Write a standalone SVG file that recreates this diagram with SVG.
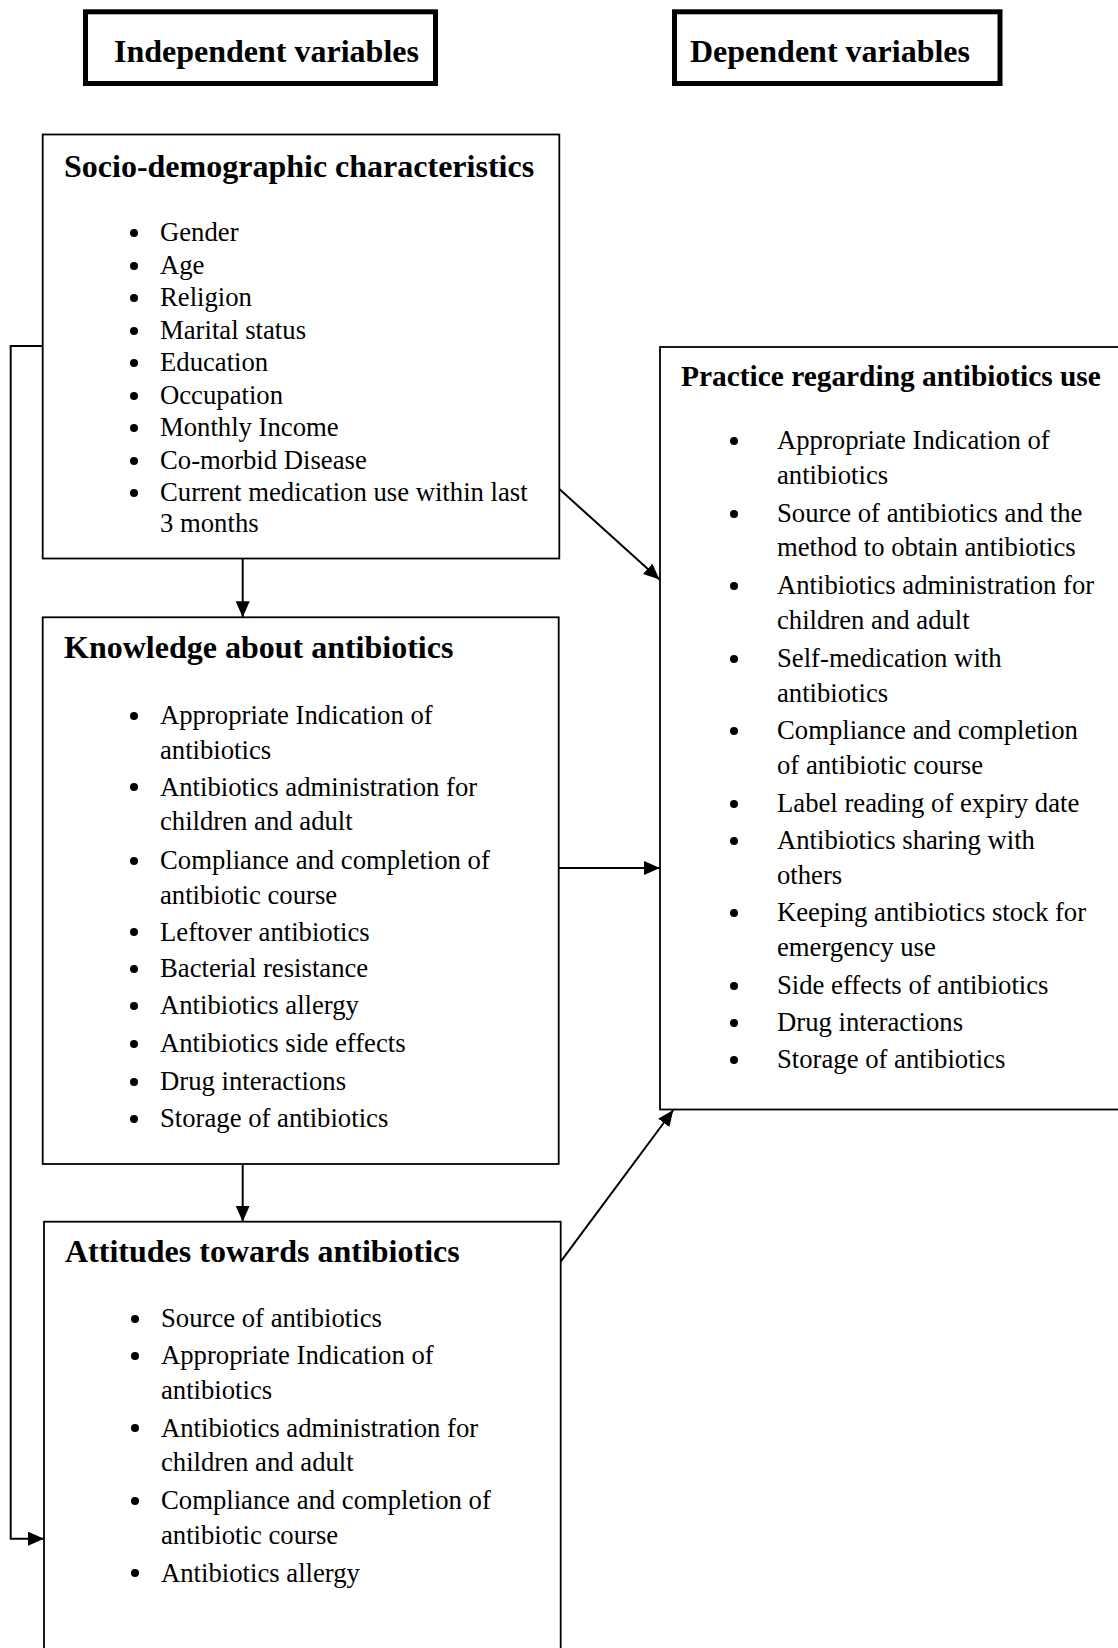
<svg xmlns="http://www.w3.org/2000/svg" width="1118" height="1648" viewBox="0 0 1118 1648">
<defs>
<marker id="arr" viewBox="0 0 16 14" refX="16" refY="7" markerWidth="16" markerHeight="14" markerUnits="userSpaceOnUse" orient="auto">
<path d="M0,0 L16,7 L0,14 Z" fill="#000"/>
</marker>
<style>
.hdr{fill:#fff;stroke:#000;stroke-width:5}
.box{fill:#fff;stroke:#000;stroke-width:1.8}
.ht{font-family:"Liberation Serif","Times New Roman",serif;font-weight:bold;font-size:32px;fill:#000}
.tt{font-family:"Liberation Serif","Times New Roman",serif;font-weight:bold;font-size:32px;fill:#000}
.it{font-family:"Liberation Serif","Times New Roman",serif;font-size:26.7px;fill:#000}
.bl{fill:#000}
.ln{fill:none;stroke:#000;stroke-width:2}
</style>
</defs>
<rect width="1118" height="1648" fill="#fff"/>

<g id="independent-header">
<rect class="hdr" x="85.5" y="11.8" width="350" height="71.7"/>
<text class="ht" x="114" y="62">Independent variables</text>
</g>

<g id="dependent-header">
<rect class="hdr" x="674.5" y="11.8" width="325.5" height="71.7"/>
<text class="ht" x="690" y="62">Dependent variables</text>
</g>

<g id="socio">
<rect class="box" x="42.7" y="134.5" width="516.6" height="424"/>
<text class="tt" x="64" y="177">Socio-demographic characteristics</text>
<g class="bl">
<circle cx="134" cy="233" r="4"/><circle cx="134" cy="266" r="4"/><circle cx="134" cy="298" r="4"/><circle cx="134" cy="331" r="4"/><circle cx="134" cy="363" r="4"/><circle cx="134" cy="396" r="4"/><circle cx="134" cy="428" r="4"/><circle cx="134" cy="461" r="4"/><circle cx="134" cy="493" r="4"/>
</g>
<text class="it" x="160" y="241">Gender</text>
<text class="it" x="160" y="274">Age</text>
<text class="it" x="160" y="306">Religion</text>
<text class="it" x="160" y="339">Marital status</text>
<text class="it" x="160" y="371">Education</text>
<text class="it" x="160" y="404">Occupation</text>
<text class="it" x="160" y="436">Monthly Income</text>
<text class="it" x="160" y="469">Co-morbid Disease</text>
<text class="it" x="160" y="501">Current medication use within last</text>
<text class="it" x="160" y="532">3 months</text>
</g>

<g id="knowledge">
<rect class="box" x="42.7" y="617.3" width="516" height="546.7"/>
<text class="tt" x="64" y="658">Knowledge about antibiotics</text>
<g class="bl">
<circle cx="134" cy="716" r="4"/><circle cx="134" cy="787" r="4"/><circle cx="134" cy="861" r="4"/><circle cx="134" cy="932" r="4"/><circle cx="134" cy="969" r="4"/><circle cx="134" cy="1006" r="4"/><circle cx="134" cy="1044" r="4"/><circle cx="134" cy="1082" r="4"/><circle cx="134" cy="1119" r="4"/>
</g>
<text class="it" x="160" y="724">Appropriate Indication of</text>
<text class="it" x="160" y="759">antibiotics</text>
<text class="it" x="160" y="796">Antibiotics administration for</text>
<text class="it" x="160" y="830">children and adult</text>
<text class="it" x="160" y="869">Compliance and completion of</text>
<text class="it" x="160" y="904">antibiotic course</text>
<text class="it" x="160" y="941">Leftover antibiotics</text>
<text class="it" x="160" y="977">Bacterial resistance</text>
<text class="it" x="160" y="1014">Antibiotics allergy</text>
<text class="it" x="160" y="1052">Antibiotics side effects</text>
<text class="it" x="160" y="1090">Drug interactions</text>
<text class="it" x="160" y="1127">Storage of antibiotics</text>
</g>

<g id="attitudes">
<rect class="box" x="44" y="1221.7" width="516.7" height="440"/>
<text class="tt" x="65" y="1262">Attitudes towards antibiotics</text>
<g class="bl">
<circle cx="135" cy="1319" r="4"/><circle cx="135" cy="1356" r="4"/><circle cx="135" cy="1428" r="4"/><circle cx="135" cy="1501" r="4"/><circle cx="135" cy="1573" r="4"/>
</g>
<text class="it" x="161" y="1327">Source of antibiotics</text>
<text class="it" x="161" y="1364">Appropriate Indication of</text>
<text class="it" x="161" y="1399">antibiotics</text>
<text class="it" x="161" y="1437">Antibiotics administration for</text>
<text class="it" x="161" y="1471">children and adult</text>
<text class="it" x="161" y="1509">Compliance and completion of</text>
<text class="it" x="161" y="1544">antibiotic course</text>
<text class="it" x="161" y="1582">Antibiotics allergy</text>
</g>

<g id="practice">
<rect class="box" x="660" y="347" width="470" height="762.5"/>
<text class="tt" x="681" y="386" style="font-size:29.4px">Practice regarding antibiotics use</text>
<g class="bl">
<circle cx="734" cy="441" r="4"/><circle cx="734" cy="514" r="4"/><circle cx="734" cy="586" r="4"/><circle cx="734" cy="659" r="4"/><circle cx="734" cy="731" r="4"/><circle cx="734" cy="804" r="4"/><circle cx="734" cy="841" r="4"/><circle cx="734" cy="913" r="4"/><circle cx="734" cy="986" r="4"/><circle cx="734" cy="1023" r="4"/><circle cx="734" cy="1060" r="4"/>
</g>
<text class="it" x="777" y="449">Appropriate Indication of</text>
<text class="it" x="777" y="484">antibiotics</text>
<text class="it" x="777" y="522">Source of antibiotics and the</text>
<text class="it" x="777" y="556">method to obtain antibiotics</text>
<text class="it" x="777" y="594">Antibiotics administration for</text>
<text class="it" x="777" y="629">children and adult</text>
<text class="it" x="777" y="667">Self-medication with</text>
<text class="it" x="777" y="702">antibiotics</text>
<text class="it" x="777" y="739">Compliance and completion</text>
<text class="it" x="777" y="774">of antibiotic course</text>
<text class="it" x="777" y="812">Label reading of expiry date</text>
<text class="it" x="777" y="849">Antibiotics sharing with</text>
<text class="it" x="777" y="884">others</text>
<text class="it" x="777" y="921">Keeping antibiotics stock for</text>
<text class="it" x="777" y="956">emergency use</text>
<text class="it" x="777" y="994">Side effects of antibiotics</text>
<text class="it" x="777" y="1031">Drug interactions</text>
<text class="it" x="777" y="1068">Storage of antibiotics</text>
</g>

<g id="connectors">
<line class="ln" x1="242.7" y1="558.5" x2="242.7" y2="617.3" marker-end="url(#arr)"/>
<line class="ln" x1="242.7" y1="1164" x2="242.7" y2="1221.7" marker-end="url(#arr)"/>
<line class="ln" x1="559.3" y1="489" x2="659.5" y2="579.5" marker-end="url(#arr)"/>
<line class="ln" x1="558.7" y1="868" x2="660" y2="868" marker-end="url(#arr)"/>
<line class="ln" x1="560.7" y1="1261.7" x2="673.3" y2="1110" marker-end="url(#arr)"/>
<polyline class="ln" points="42.7,346 10.7,346 10.7,1538.7 44,1538.7" marker-end="url(#arr)"/>
</g>
</svg>
